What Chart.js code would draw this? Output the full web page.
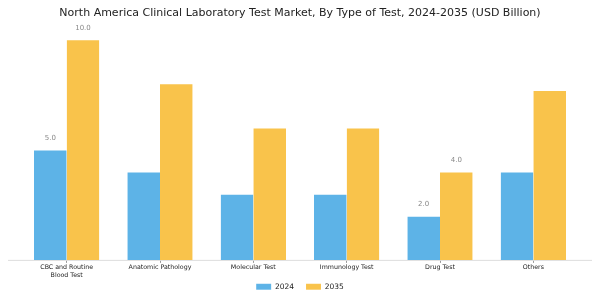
<!DOCTYPE html>
<html>
<head>
<meta charset="utf-8">
<script src="https://cdn.jsdelivr.net/npm/chart.js@4.4.1/dist/chart.umd.min.js"></script>
<style>
  html, body { margin: 0; padding: 0; background: #fff; }
  #wrap { width: 600px; height: 300px; }
</style>
</head>
<body>
<div id="wrap"><canvas id="myChart"></canvas></div>
<script>
const categories = [['CBC and Routine', 'Blood Test'], 'Anatomic Pathology', 'Molecular Test', 'Immunology Test', 'Drug Test', 'Others'];
const values2024 = [5.0, 4.0, 3.0, 3.0, 2.0, 4.0];
const values2035 = [10.0, 8.0, 6.0, 6.0, 4.0, 7.7];
// only these categories carry a value label in the picture
const labelled = [0, 4];

const valueLabels = {
  id: 'valueLabels',
  afterDatasetsDraw(chart) {
    const ctx = chart.ctx;
    ctx.save();
    ctx.font = '7px "DejaVu Sans"';
    ctx.fillStyle = '#888';
    ctx.textAlign = 'center';
    ctx.textBaseline = 'bottom';
    chart.data.datasets.forEach((ds, i) => {
      const meta = chart.getDatasetMeta(i);
      labelled.forEach(j => {
        const bar = meta.data[j];
        ctx.fillText(ds.data[j].toFixed(1), bar.x, bar.y - 8);
      });
    });
    ctx.restore();
  }
};

// the baseline runs wider than the categories, so draw it by hand
const baseLine = {
  id: 'baseLine',
  beforeDatasetsDraw(chart) {
    const ctx = chart.ctx;
    const y = chart.chartArea.bottom + 0.5;
    ctx.save();
    ctx.strokeStyle = '#ddd';
    ctx.lineWidth = 1;
    ctx.beginPath();
    ctx.moveTo(8, y);
    ctx.lineTo(592, y);
    ctx.stroke();
    ctx.restore();
  }
};

// wide legend spacing wants a big padding, but that pushes the row down; pull it back up
const legendNudge = {
  id: 'legendNudge',
  afterLayout(chart) {
    const l = chart.legend;
    const d = 271 - l.top;
    l.top += d;
    l.bottom += d;
  }
};

let ctx = document.getElementById('myChart').getContext('2d');
new Chart(ctx, {
  type: 'bar',
  data: {
    labels: categories,
    datasets: [
      {label: '2024', data: values2024, backgroundColor: '#5db3e7', borderColor: 'rgba(255,255,255,0.35)', borderWidth: {top: 1, left: 0, right: 0, bottom: 0}},
      {label: '2035', data: values2035, backgroundColor: '#f9c34b', borderColor: 'rgba(255,255,255,0.35)', borderWidth: {top: 1, left: 0, right: 0, bottom: 0}}
    ]
  },
  plugins: [valueLabels, baseLine, legendNudge],
  options: {
    responsive: true, maintainAspectRatio: false, animation: false,
    layout: {padding: {left: 20, right: 20, top: 0, bottom: 0}},
    datasets: {bar: {categoryPercentage: 0.7, barPercentage: 1.0}},
    scales: {
      x: {
        grid: {drawOnChartArea: false, offset: false, tickLength: 3, color: '#999'},
        border: {display: false},
        ticks: {color: '#222', font: {family: 'DejaVu Sans', size: 6.3}, padding: 1, maxRotation: 0}
      },
      y: {display: false, min: 0, max: 10.5}
    },
    plugins: {
      title: {display: true, text: 'North America Clinical Laboratory Test Market, By Type of Test, 2024-2035 (USD Billion)',
        color: '#222', font: {family: 'DejaVu Sans', size: 11, weight: 'normal'}, padding: {top: 7, bottom: 8}},
      legend: {position: 'bottom', maxHeight: 20, labels: {color: '#222', font: {family: 'DejaVu Sans', size: 7.5}, boxWidth: 15, boxHeight: 6, padding: 12}},
      tooltip: {enabled: false}
    }
  }
});
</script>
</body>
</html>
